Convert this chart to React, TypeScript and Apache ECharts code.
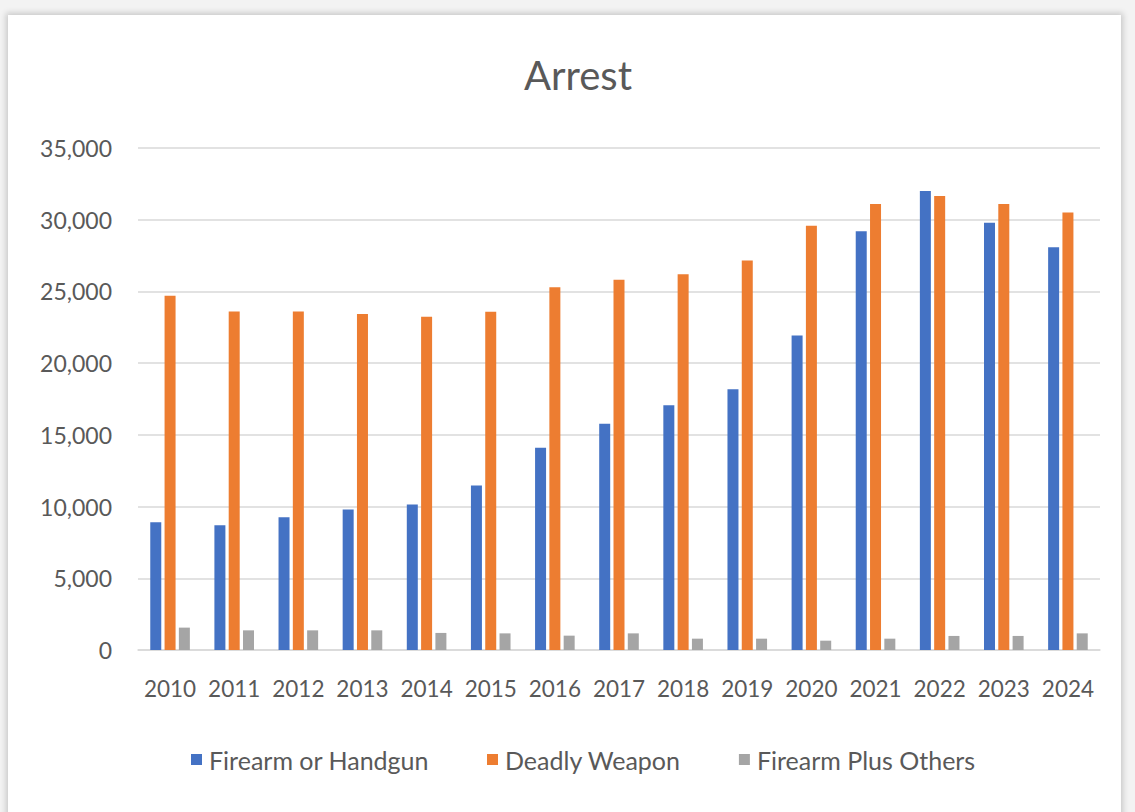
import React, { useEffect, useRef } from "react";
import * as echarts from "echarts";

const years = ["2010","2011","2012","2013","2014","2015","2016","2017","2018","2019","2020","2021","2022","2023","2024"];
const firearmOrHandgun = [8900, 8700, 9250, 9800, 10150, 11470, 14100, 15780, 17060, 18180, 21920, 29200, 32000, 29780, 28080];
const deadlyWeapon = [24700, 23600, 23600, 23430, 23240, 23590, 25290, 25820, 26200, 27150, 29580, 31090, 31650, 31090, 30510];
const firearmPlusOthers = [1560, 1370, 1370, 1370, 1190, 1160, 1000, 1160, 790, 790, 650, 790, 980, 980, 1160];
const seriesNames = ["Firearm or Handgun", "Deadly Weapon", "Firearm Plus Others"];
const colors = ["#4472C4", "#ED7D31", "#A5A5A5"];

const FONT = "Lato, 'Open Sans', sans-serif";

export default function App() {
  const ref = useRef<HTMLDivElement>(null);
  useEffect(() => {
    document.body.style.margin = "0";
    if (!ref.current) return;
    const chart = echarts.init(ref.current, null, { renderer: "svg" });
    const data = [firearmOrHandgun, deadlyWeapon, firearmPlusOthers];
    chart.setOption({
      animation: false,
      backgroundColor: "transparent",
      title: {
        text: "Arrest",
        left: 573,
        textAlign: "center",
        top: 50,
        textStyle: { fontFamily: FONT, fontSize: 40, fontWeight: "normal", color: "#595959" },
      },
      legend: {
        bottom: 35,
        left: 186,
        itemWidth: 11,
        itemHeight: 11,
        itemGap: 58,
        icon: "rect",
        textStyle: { fontFamily: FONT, fontSize: 25, color: "#595959", padding: [0, 0, 0, 2] },
        data: seriesNames,
      },
      grid: { left: 138, right: 35, top: 148, bottom: 162 },
      xAxis: {
        type: "category",
        data: years,
        axisLine: { lineStyle: { color: "#d9d9d9", width: 1.5 } },
        axisTick: { show: false },
        axisLabel: { fontFamily: FONT, fontSize: 22.5, color: "#595959", margin: 27, interval: 0 },
      },
      yAxis: {
        type: "value",
        min: 0,
        max: 35000,
        interval: 5000,
        axisLine: { show: false },
        axisTick: { show: false },
        splitLine: { lineStyle: { color: "#d9d9d9", width: 1.5 } },
        axisLabel: {
          fontFamily: FONT,
          fontSize: 23,
          color: "#595959",
          margin: 26,
          formatter: (v: number) => v.toLocaleString("en-US"),
        },
      },
      series: seriesNames.map((name, i) => ({
        name,
        type: "bar",
        data: data[i],
        barWidth: 11,
        barGap: "30%",
        itemStyle: { color: colors[i] },
      })),
    });
    return () => chart.dispose();
  }, []);

  return (
    <div style={{ position: "relative", width: 1135, height: 812, background: "#f3f3f3", overflow: "hidden" }}>
      <div
        style={{
          position: "absolute",
          left: 8,
          top: 15,
          width: 1113,
          height: 810,
          background: "#ffffff",
          boxShadow: "0 0 6px 2px rgba(0,0,0,0.18)",
        }}
      />
      <div ref={ref} style={{ position: "absolute", left: 0, top: 0, width: 1135, height: 812 }} />
    </div>
  );
}
